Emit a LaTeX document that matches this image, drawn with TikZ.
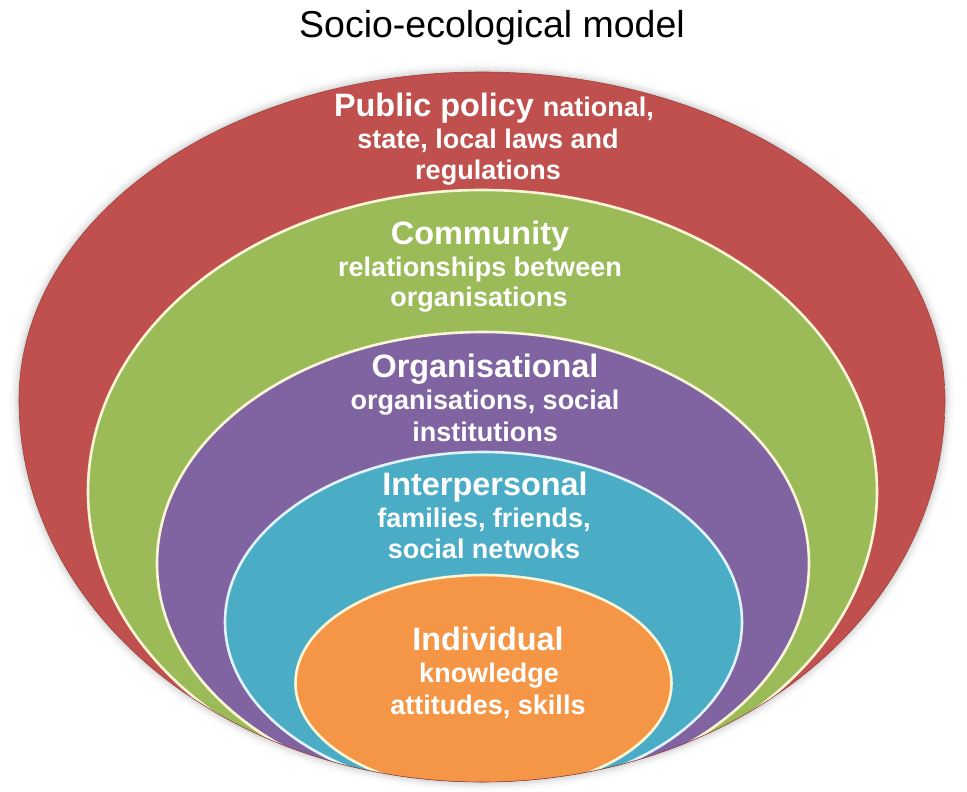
\documentclass[tikz,border=0pt]{standalone}
\usepackage{fontspec}
\setmainfont{Liberation Sans}
\definecolor{cRed}{RGB}{192,80,77}
\definecolor{cGreen}{RGB}{155,187,89}
\definecolor{cPurple}{RGB}{128,100,162}
\definecolor{cBlue}{RGB}{75,172,198}
\definecolor{cOrange}{RGB}{245,150,70}
\definecolor{cCream}{RGB}{250,245,215}
\definecolor{cIce}{RGB}{225,242,250}
\newcommand{\eggoutline}[1]{(19-#1,400) arc[start angle=180, end angle=0, x radius={463pt+#1pt}, y radius={328pt+#1pt}] arc[start angle=0, end angle=-180, x radius={463pt+#1pt}, y radius={382pt+#1pt}] -- cycle}
\tikzset{
  band/.style={line width=2.6pt, draw=cCream},
  big/.style={anchor=base, text=white, font=\fontsize{32.4}{36}\selectfont\bfseries, inner sep=0pt},
  small/.style={anchor=base, text=white, font=\fontsize{27}{31}\selectfont\bfseries, inner sep=0pt},
}
\begin{document}
\begin{tikzpicture}[x=1pt,y=-1pt]
\useasboundingbox (0,0) rectangle (967,792);
% soft shadow
\foreach \d/\o in {9/0.02,6/0.03,4/0.04,2/0.05}{
  \fill[black, opacity=\o] \eggoutline{\d};
}
\begin{scope}
\clip \eggoutline{0};
\fill[cRed] \eggoutline{0};
\filldraw[band, fill=cGreen] (482.5,491.6) ellipse [x radius=394.5pt, y radius=301.6pt];
\filldraw[band, fill=cPurple] (483,563.5) ellipse [x radius=326pt, y radius=231.5pt];
\filldraw[band, draw=cIce, fill=cBlue] (483.5,622) ellipse [x radius=258.5pt, y radius=170pt];
\filldraw[band, fill=cOrange] (483.5,683) ellipse [x radius=188pt, y radius=108pt];
\end{scope}
\draw[cRed!80!black, line width=0.6pt] \eggoutline{0};
% title
\node[anchor=base, inner sep=0pt, font=\fontsize{37.5}{40}\selectfont] (title) at (492,38) {Socio-ecological model};
% public policy
\node[big] (pp1) at (494,117) {Public policy \fontsize{27}{31}\selectfont national,};
\node[small] (pp2) at (488,148) {state, local laws and};
\node[small] (pp3) at (488,179) {regulations};
% community
\node[big] (cm1) at (480,244) {Community};
\node[small] (cm2) at (480,276) {relationships between};
\node[small] (cm3) at (479,306) {organisations};
% organisational
\node[big] (or1) at (485,377) {Organisational};
\node[small] (or2) at (485,409) {organisations, social};
\node[small] (or3) at (485,441) {institutions};
% interpersonal
\node[big] (ip1) at (485,495) {Interpersonal};
\node[small] (ip2) at (484,527) {families, friends,};
\node[small] (ip3) at (484,558) {social netwoks};
% individual
\node[big] (in1) at (488,650) {Individual};
\node[small] (in2) at (489,682) {knowledge};
\node[small] (in3) at (488,714) {attitudes, skills};
\end{tikzpicture}
\end{document}
